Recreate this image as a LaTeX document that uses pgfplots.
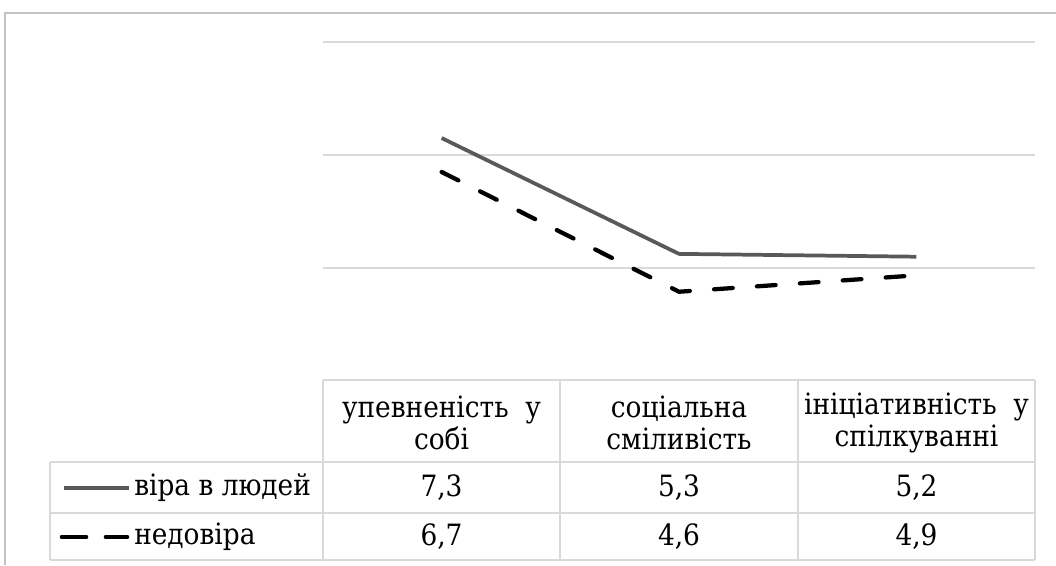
\documentclass[border=0pt]{standalone}
\usepackage{fontspec}
\IfFontExistsTF{DejaVu Serif Condensed}{\newfontfamily\tfont{DejaVu Serif Condensed}}{\newfontfamily\tfont{DejaVu Serif}}
\usepackage{pgfplots}
\pgfplotsset{compat=1.18}
\definecolor{grid}{HTML}{D9D9D9}
\definecolor{solidc}{HTML}{595959}
\begin{document}
\begin{tikzpicture}[x=0.75pt,y=0.75pt]
\useasboundingbox (0,0) rectangle (1056,565);
\coordinate (A) at (323,184);
% chart border
\draw[color=grid!90!black,line width=1.5] (5,0) -- (5,552) -- (1056,552);
\begin{axis}[
  at={(A)}, anchor=south west,
  scale only axis, width=534pt, height=254.25pt,
  xmin=-0.5, xmax=2.5, ymin=3, ymax=9,
  xtick=\empty, ytick={5,7,9}, yticklabels={},
  major tick length=0pt,
  ymajorgrids, grid style={color=grid, line width=1.5pt},
  axis line style={draw=none},
  clip=false,
]
\addplot[solidc, line width=2.8pt, line join=round] coordinates {(0,7.3) (1,5.25) (2,5.2)};
\addplot[black, line width=3.2pt, line cap=round, dash pattern=on 14pt off 18.25pt] coordinates {(0,6.7) (1,4.58) (2,4.87)};
\end{axis}
% table
\begin{scope}[color=grid, line width=1pt]
\draw (323,185) -- (1035,185);
\draw (50,103) -- (1035,103);
\draw (50,52) -- (1035,52);
\draw (50,5) -- (1035,5);
\draw (50,103) -- (50,5);
\foreach \xx in {323,560,798,1035} \draw (\xx,185) -- (\xx,5);
\end{scope}
\begin{scope}[font={\tfont\fontsize{22}{24}\selectfont}, text=black]
\node[align=center] at (441.5,142) {упевненість\ \ у\\собі};
\node[align=center] at (679,142) {соціальна\\сміливість};
\node[align=center] at (916.5,142) {ініціативність\ \ у\\спілкуванні};
\node at (441.5,77) {7,3};
\node at (679,77) {5,3};
\node at (916.5,77) {5,2};
\node at (441.5,28) {6,7};
\node at (679,28) {4,6};
\node at (916.5,28) {4,9};
\node[anchor=west,inner sep=0pt] at (134,77) {віра в людей};
\node[anchor=west,inner sep=0pt] at (134,28) {недовіра};
\end{scope}
\draw[solidc, line width=2.8pt] (64,77) -- (129,77);
\draw[black, line width=3.5pt, line cap=round] (62,28) -- (86,28);
\draw[black, line width=3.5pt, line cap=round] (106,28) -- (127,28);
\end{tikzpicture}
\end{document}
